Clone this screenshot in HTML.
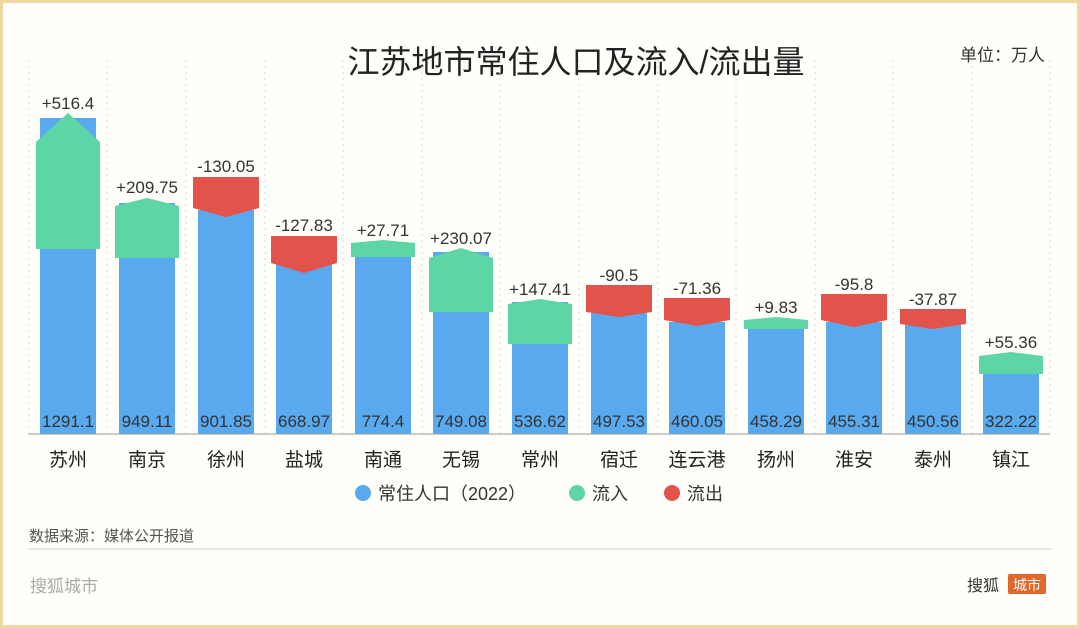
<!DOCTYPE html>
<html><head><meta charset="utf-8"><style>
html,body{margin:0;padding:0;background:#fff}
svg{display:block}
text{font-family:"Liberation Sans","Noto Sans CJK SC",sans-serif}
</style></head><body>
<svg width="1080" height="628" viewBox="0 0 1080 628" xmlns="http://www.w3.org/2000/svg">
<rect x="0" y="0" width="1080" height="628" fill="#fffefa"/>
<rect x="1.5" y="1.5" width="1077" height="625" fill="none" stroke="#ecd9a0" stroke-width="3"/>
<text x="576" y="73" font-size="32" text-anchor="middle" fill="#222">江苏地市常住人口及流入/流出量</text>
<text x="1045" y="61" font-size="17" text-anchor="end" fill="#333">单位：万人</text>
<g stroke="#d8d8d8" stroke-dasharray="2,4" stroke-width="1">
<line x1="29" y1="60" x2="29" y2="433"/><line x1="107" y1="60" x2="107" y2="433"/><line x1="186" y1="60" x2="186" y2="433"/><line x1="265" y1="60" x2="265" y2="433"/><line x1="343" y1="60" x2="343" y2="433"/><line x1="422" y1="60" x2="422" y2="433"/><line x1="500" y1="60" x2="500" y2="433"/><line x1="579" y1="60" x2="579" y2="433"/><line x1="658" y1="60" x2="658" y2="433"/><line x1="736" y1="60" x2="736" y2="433"/><line x1="815" y1="60" x2="815" y2="433"/><line x1="893" y1="60" x2="893" y2="433"/><line x1="972" y1="60" x2="972" y2="433"/><line x1="1050" y1="60" x2="1050" y2="433"/>
</g>
<g fill="#59a9ee">
<rect x="40" y="118" width="56" height="316"/>
<rect x="119" y="203" width="56" height="231"/>
<rect x="198" y="210" width="56" height="224"/>
<rect x="276" y="264" width="56" height="170"/>
<rect x="355" y="244" width="56" height="190"/>
<rect x="433" y="252" width="56" height="182"/>
<rect x="512" y="302" width="56" height="132"/>
<rect x="591" y="313" width="56" height="121"/>
<rect x="669" y="322" width="56" height="112"/>
<rect x="748" y="320" width="56" height="114"/>
<rect x="826" y="322" width="56" height="112"/>
<rect x="905" y="325" width="56" height="109"/>
<rect x="983" y="357" width="56" height="77"/>
</g>
<g fill="#5dd5a4">
<path d="M36,142 L68,113 L100,142 L100,249 L36,249Z"/>
<path d="M115,206 L147,198 L179,206 L179,258 L115,258Z"/>
<path d="M351,243 L383,240 L415,243 L415,257 L351,257Z"/>
<path d="M429,258 L461,248 L493,258 L493,312 L429,312Z"/>
<path d="M508,304 L540,299 L572,304 L572,344 L508,344Z"/>
<path d="M744,320 L776,317 L808,320 L808,329 L744,329Z"/>
<path d="M979,356 L1011,352 L1043,356 L1043,374 L979,374Z"/>
</g>
<g fill="#e2534c">
<path d="M193,177 L259,177 L259,208 L226,217 L193,208Z"/>
<path d="M271,236 L337,236 L337,263 L304,273 L271,263Z"/>
<path d="M586,285 L652,285 L652,312 L619,317 L586,312Z"/>
<path d="M664,298 L730,298 L730,320 L697,326 L664,320Z"/>
<path d="M821,294 L887,294 L887,320 L854,327 L821,320Z"/>
<path d="M900,309 L966,309 L966,324 L933,329 L900,324Z"/>
</g>
<line x1="28" y1="434" x2="1050" y2="434" stroke="#999" stroke-width="1"/>
<g font-size="17" fill="#333" text-anchor="middle">
<text x="68" y="109">+516.4</text><text x="147" y="193">+209.75</text><text x="226" y="172">-130.05</text><text x="304" y="231">-127.83</text><text x="383" y="236">+27.71</text><text x="461" y="244">+230.07</text><text x="540" y="295">+147.41</text><text x="619" y="281">-90.5</text><text x="697" y="294">-71.36</text><text x="776" y="313">+9.83</text><text x="854" y="290">-95.8</text><text x="933" y="305">-37.87</text><text x="1011" y="348">+55.36</text>
</g>
<g font-size="17" fill="#333" text-anchor="middle">
<text x="68" y="427">1291.1</text><text x="147" y="427">949.11</text><text x="226" y="427">901.85</text><text x="304" y="427">668.97</text><text x="383" y="427">774.4</text><text x="461" y="427">749.08</text><text x="540" y="427">536.62</text><text x="619" y="427">497.53</text><text x="697" y="427">460.05</text><text x="776" y="427">458.29</text><text x="854" y="427">455.31</text><text x="933" y="427">450.56</text><text x="1011" y="427">322.22</text>
</g>
<g font-size="19" fill="#222" text-anchor="middle">
<text x="68" y="466">苏州</text><text x="147" y="466">南京</text><text x="226" y="466">徐州</text><text x="304" y="466">盐城</text><text x="383" y="466">南通</text><text x="461" y="466">无锡</text><text x="540" y="466">常州</text><text x="619" y="466">宿迁</text><text x="697" y="466">连云港</text><text x="776" y="466">扬州</text><text x="854" y="466">淮安</text><text x="933" y="466">泰州</text><text x="1011" y="466">镇江</text>
</g>
<circle cx="363" cy="493" r="8" fill="#59a9ee"/>
<text x="378" y="500" font-size="18" fill="#333">常住人口（2022）</text>
<circle cx="577" cy="493" r="8" fill="#5dd5a4"/>
<text x="592" y="500" font-size="18" fill="#333">流入</text>
<circle cx="672" cy="493" r="8" fill="#e2534c"/>
<text x="687" y="500" font-size="18" fill="#333">流出</text>
<text x="29" y="541" font-size="15" fill="#555">数据来源：媒体公开报道</text>
<line x1="28" y1="549" x2="1052" y2="549" stroke="#ddd" stroke-width="1.5"/>
<text x="30" y="592" font-size="17" fill="#aaa">搜狐城市</text>
<text x="967" y="591" font-size="16" fill="#333">搜狐</text>
<rect x="1008" y="574" width="38" height="20" rx="2" fill="#e0682a"/>
<text x="1027" y="590" font-size="14" fill="#fff" text-anchor="middle">城市</text>
</svg>
</body></html>
